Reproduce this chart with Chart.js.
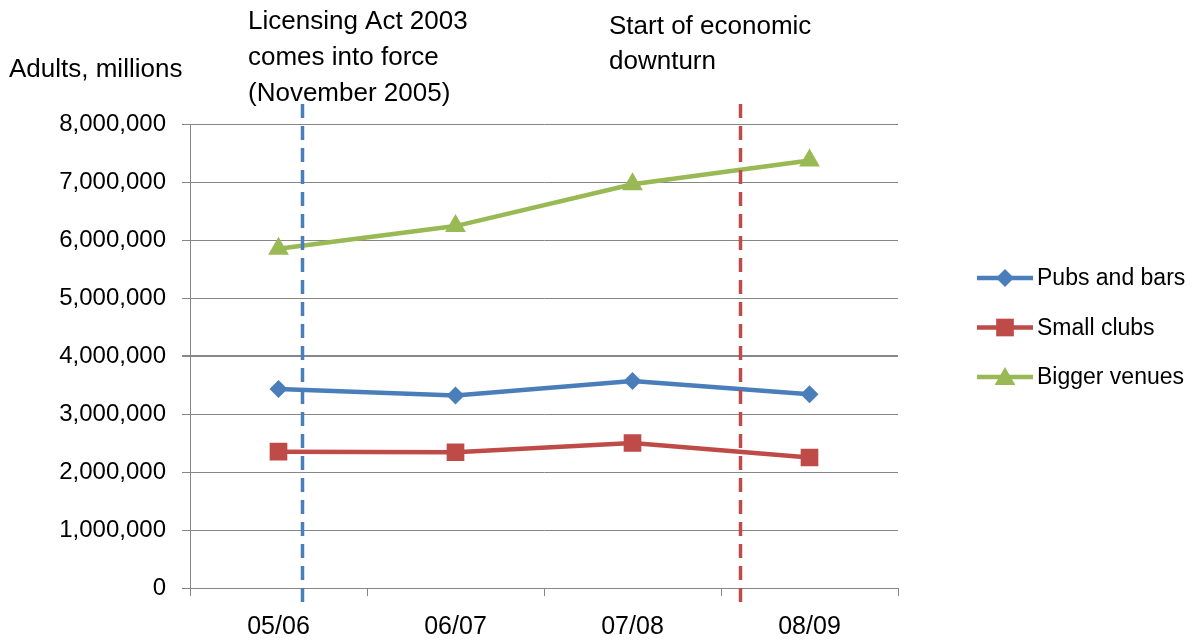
<!DOCTYPE html>
<html>
<head>
<meta charset="utf-8">
<title>Adults attending venues</title>
<script src="https://cdn.jsdelivr.net/npm/chart.js@4.4.1/dist/chart.umd.min.js"></script>
<style>
  html, body { margin: 0; padding: 0; background: #fff; }
  #wrap { width: 1194px; height: 643px; }
</style>
</head>
<body>
<div id="wrap"><canvas id="venueChart"></canvas></div>
<script>
// data
var years = ['05/06', '06/07', '07/08', '08/09'];
var pubsAndBars = [3430000, 3320000, 3570000, 3340000];
var smallClubs = [2350000, 2340000, 2500000, 2250000];
var biggerVenues = [5850000, 6240000, 6960000, 7370000];
var yMax = 8000000;
var yStep = 1000000;

// events marked with dashed lines (position on the category axis, in index units)
var eventPositions = [0.13, 2.61];
var eventColors = ['#4A7EBB', '#BE4B48'];
var eventTexts = [
    ['Licensing Act 2003', 'comes into force', '(November 2005)'],
    ['Start of economic', 'downturn']
];

var FONT = '"Liberation Sans", Arial, sans-serif';
var GRID = '#868686';

var seriesColors = ['#4A7EBB', '#BE4B48', '#98B954'];
var seriesStyles = ['rectRot', 'rect', 'triangle'];
var seriesRadius = [9, 12.5, 12];
var seriesNames = ['Pubs and bars', 'Small clubs', 'Bigger venues'];

var eventMarkers = {
    id: 'eventMarkers',
    afterDatasetsDraw: function(chart) {
        var ctx = chart.ctx;
        var xs = chart.scales.x;
        var area = chart.chartArea;
        ctx.save();
        ctx.lineWidth = 3.5;
        ctx.setLineDash([14, 8]);
        eventPositions.forEach(function(pos, i) {
            var px = Math.round(xs.getPixelForValue(pos)) + 0.5;
            ctx.strokeStyle = eventColors[i];
            ctx.beginPath();
            ctx.moveTo(px, area.top - 20);
            ctx.lineTo(px, area.bottom + 18);
            ctx.stroke();
        });
        ctx.restore();
    },
    afterDraw: function(chart) {
        var ctx = chart.ctx;
        ctx.save();
        ctx.fillStyle = '#000';
        ctx.textBaseline = 'middle';
        ctx.textAlign = 'left';
        ctx.font = '26px ' + FONT;
        ctx.fillText('Adults, millions', 9, 70);
        eventTexts[0].forEach(function(t, i) { ctx.fillText(t, 248, 22 + i * 36); });
        eventTexts[1].forEach(function(t, i) { ctx.fillText(t, 609, 27 + i * 35); });

        // legend: line sample with marker, then the name
        ctx.font = '23px ' + FONT;
        seriesNames.forEach(function(name, i) {
            var y = 278 + i * 49.5;
            ctx.strokeStyle = seriesColors[i];
            ctx.lineWidth = 4.5;
            ctx.beginPath();
            ctx.moveTo(977, y);
            ctx.lineTo(1033, y);
            ctx.stroke();
            ctx.fillStyle = seriesColors[i];
            Chart.helpers.drawPoint(ctx, {
                pointStyle: seriesStyles[i],
                radius: seriesRadius[i],
                rotation: 0,
                borderWidth: 0
            }, 1005, y + (seriesStyles[i] === 'triangle' ? 2 : 0));
            ctx.fillStyle = '#000';
            ctx.fillText(name, 1037, y + 1);
        });
        ctx.restore();
    }
};

var seriesData = [pubsAndBars, smallClubs, biggerVenues];

var ctx = document.getElementById('venueChart').getContext('2d');
var venueChart = new Chart(ctx, {
    type: 'line',
    data: {
        labels: years,
        datasets: seriesData.map(function(d, i) {
            return {
                label: seriesNames[i],
                data: d,
                borderColor: seriesColors[i],
                backgroundColor: seriesColors[i],
                borderWidth: 4.5,
                pointStyle: seriesStyles[i],
                pointRadius: seriesRadius[i],
                pointBorderWidth: 0,
                pointBackgroundColor: seriesColors[i],
                tension: 0,
                fill: false
            };
        })
    },
    options: {
        responsive: true,
        maintainAspectRatio: false,
        animation: false,
        layout: {
            padding: { top: 124, right: 296, left: 0, bottom: 0 }
        },
        plugins: {
            legend: { display: false },
            tooltip: { enabled: false }
        },
        scales: {
            x: {
                offset: true,
                afterFit: function(s) { s.height = 55; },
                grid: {
                    offset: true,
                    drawOnChartArea: false,
                    color: GRID,
                    tickLength: 8
                },
                border: { color: GRID },
                ticks: {
                    color: '#000',
                    padding: 16,
                    font: { family: FONT, size: 25 }
                }
            },
            y: {
                min: 0,
                max: yMax,
                afterFit: function(s) { s.width = 190; },
                grid: {
                    color: GRID,
                    tickLength: 8,
                    lineWidth: function(c) { return c.tick && c.tick.value === 4000000 ? 2 : 1; }
                },
                border: { color: GRID },
                ticks: {
                    stepSize: yStep,
                    color: '#000',
                    padding: 16,
                    font: { family: FONT, size: 24 },
                    callback: function(v) { return v.toLocaleString('en-US'); }
                }
            }
        }
    },
    plugins: [eventMarkers]
});
</script>
</body>
</html>
